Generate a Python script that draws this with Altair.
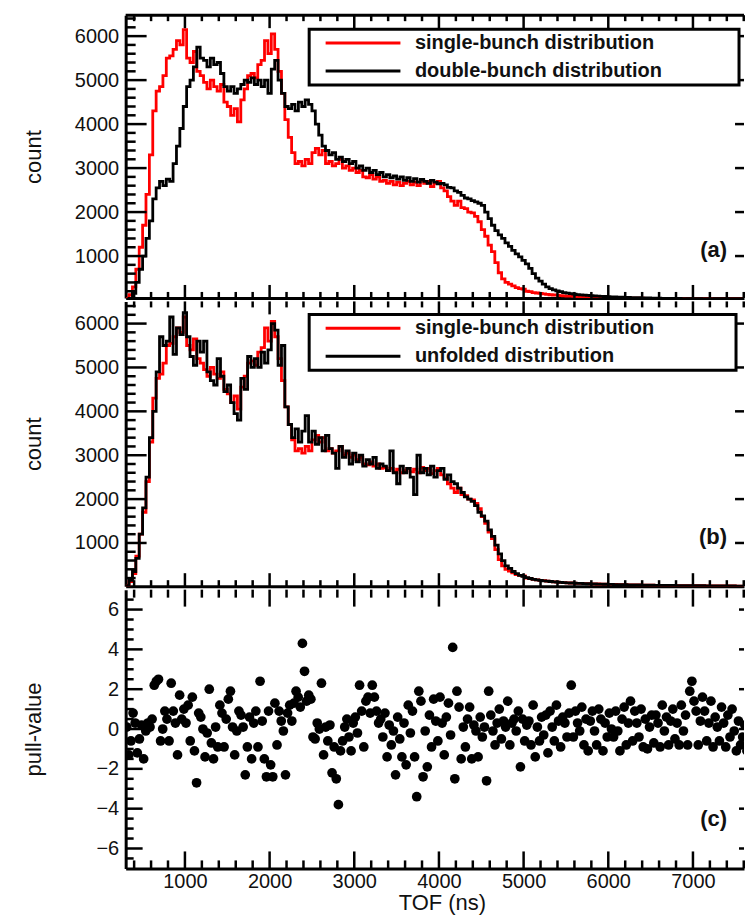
import altair as alt
import pandas as pd

FONT = "Liberation Sans"

# ---------------- data ----------------
TOF_START = 300   # ns, left edge of the first histogram bin
TOF_BIN = 40      # ns, histogram bin width

single_bunch = [
    30, 120, 300, 700, 1200, 1700, 2400, 3300, 4300, 4750,
    4850, 5100, 5500, 5550, 5700, 5900, 5800, 6150, 5500, 5400,
    5650, 5200, 5100, 4950, 4800, 5000, 4850, 4750, 4900, 4500,
    4400, 4200, 4350, 4050, 4550, 4800, 5100, 5150, 5050, 5350,
    5450, 5900, 5600, 6050, 5700, 5200, 4700, 4100, 3700, 3350,
    3100, 3150, 3050, 3200, 3100, 3350, 3450, 3300, 3400, 3100,
    3150, 3050, 3100, 3200, 3000, 3050, 2950, 3000, 2900, 2950,
    2800, 2780, 2850, 2750, 2800, 2700, 2720, 2650, 2700, 2620,
    2680, 2600, 2650, 2700, 2620, 2680, 2600, 2720, 2650, 2700,
    2580, 2650, 2700, 2550, 2480, 2350, 2250, 2150, 2250, 2100,
    2080, 2000, 1980, 1900, 1780, 1600, 1450, 1250, 1100, 850,
    620, 480, 400, 360, 320, 280, 260, 250, 200, 190,
    170, 160, 150, 140, 130, 120, 115, 110, 100, 95,
    90, 88, 85, 80, 78, 75, 72, 70, 68, 65,
    62, 60, 58, 55, 54, 52, 50, 48, 47, 45,
    44, 42, 41, 40, 38, 37, 36, 35, 34, 33,
    32, 31, 30, 30, 29, 28, 27, 27, 26, 25,
    25, 24, 24, 23, 22, 22, 21, 21, 20, 20,
    19, 19, 18, 18,
]

double_bunch = [
    10, 40, 150, 400, 700, 1000, 1400, 1800, 2300, 2550,
    2700, 2600, 2750, 2700, 3100, 3500, 3900, 4400, 4850, 5000,
    5300, 5750, 5500, 5450, 5300, 5500, 5350, 5400, 5150, 4850,
    4750, 4850, 4700, 4800, 4900, 5000, 4950, 5050, 4900, 5000,
    4850, 5000, 4700, 5250, 5450, 5000, 4700, 4400, 4350, 4450,
    4300, 4500, 4400, 4550, 4450, 4300, 4000, 3750, 3500, 3400,
    3300, 3350, 3200, 3250, 3150, 3200, 3100, 3150, 3000, 3050,
    2950, 3000, 2900, 2950, 2850, 2900, 2800, 2850, 2780, 2820,
    2750, 2800, 2720, 2780, 2700, 2760, 2680, 2740, 2700, 2650,
    2720, 2680, 2640, 2650, 2620, 2560, 2550, 2480, 2450, 2380,
    2320, 2300, 2260, 2230, 2200, 2150, 2000, 1850, 1700, 1580,
    1480, 1400, 1300, 1220, 1130, 1050, 980, 900, 820, 720,
    600, 500, 430, 360, 300, 260, 230, 210, 190, 170,
    155, 145, 135, 125, 118, 110, 104, 98, 92, 88,
    84, 80, 76, 72, 69, 66, 63, 60, 58, 56,
    54, 52, 50, 48, 46, 45, 43, 42, 40, 39,
    38, 37, 36, 35, 34, 33, 32, 31, 30, 29,
    28, 28, 27, 26, 26, 25, 24, 24, 23, 23,
    22, 22, 21, 21,
]

unfolded = [
    30, 150, 350, 650, 1200, 1800, 2500, 3400, 4000, 4900,
    5700, 5500, 5600, 6150, 5300, 5900, 5750, 6250, 5700, 5250,
    5050, 5600, 5350, 5600, 4900, 4700, 4600, 5200, 4800, 4450,
    4600, 4200, 3950, 3800, 4750, 4500, 5250, 5000, 5200, 5000,
    5350, 5100, 5400, 6000, 5850, 5050, 5500, 4100, 3700, 3400,
    3600, 3300, 3550, 3900, 3300, 3550, 3250, 3400, 3100, 3450,
    3150, 3050, 2700, 3200, 2950, 3100, 2800, 3050, 2850, 3000,
    2750, 2900, 2800, 2950, 2700, 2800, 2750, 2650, 3100, 2600,
    2350, 2750, 2600, 2700, 2500, 2100, 3000, 2600, 2700, 2550,
    2750, 2500, 2650, 2700, 2450, 2550, 2400, 2350, 2250, 2150,
    2050, 2000, 1950, 1850, 1700, 1620, 1500, 1300, 1150, 950,
    750, 600, 480, 420, 350, 300, 260, 240, 210, 190,
    170, 160, 148, 138, 130, 122, 115, 108, 100, 96,
    92, 88, 84, 80, 77, 74, 71, 69, 66, 64,
    62, 59, 57, 55, 53, 51, 50, 48, 46, 45,
    43, 42, 40, 39, 38, 37, 36, 35, 34, 33,
    32, 31, 30, 29, 29, 28, 27, 27, 26, 25,
    25, 24, 24, 23, 23, 22, 21, 21, 20, 20,
    19, 19, 18, 18,
]

PULL_START = 312.5   # ns, first pull point
PULL_STEP = 25       # ns between pull points
pull_values = [
    0.1, -1.3, -0.6, 0.8, 0.3, -1.2, -0.5, 0.2, -1.5, -0.1,
    0.3, 0.1, 0.5, 2.2, 2.4, 2.5, -0.6, 0.0, 0.9, 0.5,
    -0.6, 2.3, 0.9, 0.3, -1.3, 1.7, 0.5, 1.0, 0.3, 1.2,
    -0.6, 1.6, -1.1, -2.7, 0.8, 0.6, 0.0, -1.4, -0.2, 2.0,
    -0.7, -1.5, 0.1, -0.9, 1.2, 0.8, -0.9, 0.5, 1.5, 1.9,
    0.1, -1.3, -0.1, 0.9, 0.7, 0.1, -2.3, -0.9, 0.6, -1.5,
    0.3, 0.9, -0.9, 2.4, 0.4, -1.5, -2.4, 0.9, -1.8, -2.4,
    1.3, -0.8, 0.9, 0.4, -0.1, -2.3, 0.8, 1.2, 0.4, 1.3,
    1.9, 1.6, 1.1, 4.3, 2.9, 1.4, 1.7, 1.5, -0.4, -0.5,
    0.3, 0.0, 2.3, -1.3, 0.1, -0.6, 0.2, -2.2, -0.9, -2.5,
    -3.8, -1.1, -0.6, 0.1, 0.5, -0.4, -1.1, 0.3, 0.6, -0.2,
    2.2, 0.9, -0.9, 1.4, 1.6, 0.8, 2.2, 1.6, 0.9, 0.3,
    0.5, -0.4, 0.8, -1.4, 0.2, -0.8, -0.1, -2.3, 0.6, -0.5,
    -1.4, 0.3, -1.8, 1.2, -0.2, 0.9, -1.4, -3.4, 1.9, 1.4,
    -2.4, -0.1, -1.9, 0.7, -0.9, 1.5, 0.4, -0.6, 1.6, 0.3,
    -1.3, 0.6, 1.3, -0.3, 4.1, -2.5, 1.9, 1.1, -1.5, 0.1,
    -0.9, 0.5, 1.1, -1.5, 0.2, -0.1, -1.4, 0.6, -0.4, 0.1,
    -2.6, 1.9, 0.7, -0.1, -0.8, 0.3, 1.0, -0.5, 0.4, 0.1,
    1.4, -0.8, 0.3, 0.5, -0.1, 0.9, -1.9, 0.5, -0.6, 0.2,
    0.4, -0.8, 1.2, -1.4, 0.1, -0.6, 0.6, -0.3, 0.7, -1.2,
    0.9, 0.1, -0.6, 1.2, 0.4, -0.9, 0.6, 0.3, -0.4, 0.8,
    2.2, -0.4, 0.9, 0.3, -0.1, 1.1, -0.8, 0.5, -1.1, 0.4,
    0.9, -0.1, -0.8, 1.0, 0.5, -1.1, 0.3, -0.4, 0.8, 0.0,
    -0.4, 0.9, -0.1, -1.1, 0.5, 1.1, -0.8, 0.3, 1.4, -0.6,
    0.9, 0.3, -0.4, 1.0, -0.9, 0.5, -1.0, 0.1, 0.7, -0.7,
    0.7, 0.3, -0.9, 1.2, -0.1, 0.6, -0.8, 0.4, 1.0, -0.5,
    0.3, -0.8, 1.2, -0.1, 0.7, -0.8, 1.9, 2.4, 1.4, 0.9,
    -0.8, 0.4, 1.6, 0.9, -0.6, 0.3, 1.4, -0.9, 0.6, 0.1,
    -0.6, 1.1, 0.3, -0.9, 0.7, -0.4, 1.0, -0.1, -1.1, 0.4,
    -0.8, -0.4, 0.2, -1.1,
]

series_a = ["single-bunch distribution", "double-bunch distribution"]
series_b = ["single-bunch distribution", "unfolded distribution"]
series_colors = ["#ff0000", "#000000"]
panel_labels = ["(a)", "(b)", "(c)"]

tof_major = [1000, 2000, 3000, 4000, 5000, 6000, 7000]
tof_minor = [v for v in range(400, 7601, 200) if v % 1000 != 0]
count_major = [1000, 2000, 3000, 4000, 5000, 6000]
count_minor = [v for v in range(200, 6401, 200) if v % 1000 != 0]
pull_major = [-6, -4, -2, 0, 2, 4, 6]
pull_minor = [v / 2 for v in range(-13, 14) if v % 4 != 0]

assert len(single_bunch) == len(double_bunch) == len(unfolded)

# ---------------- tables ----------------
n = len(single_bunch)
tof = [TOF_START + TOF_BIN * i for i in range(n)]
df_a = pd.DataFrame({"tof": tof * 2, "count": single_bunch + double_bunch,
                     "series": [series_a[0]] * n + [series_a[1]] * n})
df_b = pd.DataFrame({"tof": tof * 2, "count": single_bunch + unfolded,
                     "series": [series_b[0]] * n + [series_b[1]] * n})
df_pull = pd.DataFrame({"tof": [PULL_START + PULL_STEP * i for i in range(len(pull_values))],
                        "pull": pull_values})

# ---------------- layout ----------------
W = 620
X_DOMAIN = [300, 7603]


def xscale():
    return alt.Scale(domain=X_DOMAIN, nice=False, zero=False)


def tick_df(values):
    return pd.DataFrame({"v": values})


# tick layers leave their axis unspecified so that it merges with the data layer's axis
def x_ticks(values, y0, y1):
    return alt.Chart(tick_df(values)).mark_rule(color="black", strokeWidth=2.5).encode(
        x=alt.X("v:Q", scale=xscale()), y=alt.value(y0), y2=alt.value(y1))


def y_ticks(values, yscale, x0, x1):
    return alt.Chart(tick_df(values)).mark_rule(color="black", strokeWidth=2.5).encode(
        y=alt.Y("v:Q", scale=yscale), x=alt.value(x0), x2=alt.value(x1))


def label_layer(text, y):
    return alt.Chart(pd.DataFrame({"t": [text]})).mark_text(
        align="right", baseline="middle", fontSize=22, fontWeight="bold", font=FONT, color="#111"
    ).encode(text="t:N", x=alt.value(W - 17), y=alt.value(y))


def top_frame():
    return alt.Chart(pd.DataFrame({"t": [0]})).mark_rule(color="black", strokeWidth=3).encode(
        x=alt.value(0), x2=alt.value(W), y=alt.value(0))


def y_axis(title, values):
    return alt.Axis(values=values, title=title, format="d", ticks=False, tickSize=0,
                    domain=True, domainWidth=3, domainColor="black", labelPadding=7,
                    labelFontSize=20, titleFontSize=22, titleX=-80, grid=False)


hidden_x_axis = alt.Axis(labels=False, ticks=False, tickSize=0, domain=True, domainWidth=3,
                         domainColor="black", title=None, grid=False)


def hist_panel(df, series, ydom, H, legend_y, label, label_y, filler, top_border):
    yscale = alt.Scale(domain=ydom, nice=False, zero=False)
    legend = alt.Legend(
        title=filler, titleOrient="right", titleFontSize=10, titleOpacity=0,
        titlePadding=0, orient="none", legendX=184, legendY=legend_y,
        symbolType="stroke", symbolSize=5625, symbolStrokeWidth=3, symbolOffset=11,
        clipHeight=20, rowPadding=8, padding=4, labelOffset=13,
        labelFontSize=20, labelFontWeight="bold", labelFont=FONT, labelColor="#111",
        labelLimit=600, strokeColor="black", fillColor="white",
    )
    color = alt.Color("series:N", scale=alt.Scale(domain=series, range=series_colors),
                      legend=legend)
    layers = []
    for s in series:
        layers.append(
            alt.Chart(df).transform_filter(alt.datum.series == s)
            .mark_line(interpolate="step-after", strokeWidth=2.8, clip=True)
            .encode(x=alt.X("tof:Q", scale=xscale(), axis=hidden_x_axis),
                    y=alt.Y("count:Q", scale=yscale, axis=y_axis("count", count_major)),
                    color=color)
        )
    layers += [
        x_ticks(tof_major, 0, 13),
        x_ticks(tof_minor, 0, 6),
        x_ticks(tof_major, H, H - 13),
        x_ticks(tof_minor, H, H - 6),
        y_ticks(count_major, yscale, 0, 21),
        y_ticks(count_minor, yscale, 0, 10),
        y_ticks(count_major, yscale, W - 9, W),
        label_layer(label, label_y),
    ]
    if top_border:
        layers.append(top_frame())
    return alt.layer(*layers).properties(width=W, height=H)


H_A, H_B, H_C = 283.5, 285.5, 279.5
panel_a = hist_panel(df_a, series_a, [48, 6476], H_A, 14, panel_labels[0], 235,
                     "0" * 13, True)
panel_b = hist_panel(df_b, series_b, [16, 6505], H_B, 13, panel_labels[1], 236.5,
                     "0" * 14, False)

pscale = alt.Scale(domain=[-7, 7], nice=False, zero=False)
bottom_x_axis = alt.Axis(values=tof_major, title="TOF (ns)", format="d", ticks=False,
                         tickSize=0, domain=True, domainWidth=3, domainColor="black",
                         labelPadding=3, labelFontSize=20, titleFontSize=22, labelFlush=False,
                         titleX=317, titleY=24, grid=False)
points = alt.Chart(df_pull).mark_circle(size=95, color="black", opacity=1, clip=True).encode(
    x=alt.X("tof:Q", scale=xscale(), axis=bottom_x_axis),
    y=alt.Y("pull:Q", scale=pscale, axis=y_axis("pull-value", pull_major)),
)
panel_c = alt.layer(
    points,
    x_ticks(tof_major, 0, 17),
    x_ticks(tof_minor, 0, 8),
    x_ticks(tof_major, H_C, H_C - 17),
    x_ticks(tof_minor, H_C, H_C - 8),
    y_ticks(pull_major, pscale, 0, 17),
    y_ticks(pull_minor, pscale, 0, 8),
    y_ticks(pull_major, pscale, W - 5, W),
    label_layer(panel_labels[2], 229.5),
).properties(width=W, height=H_C)

chart = (
    alt.vconcat(panel_a, panel_b, panel_c, spacing=0)
    .resolve_scale(color="independent")
    .properties(padding={"left": 22, "top": 12, "right": 0, "bottom": 0}, background="white")
    .configure_view(stroke=None)
    .configure_axis(labelFont=FONT, titleFont=FONT, labelColor="#111", titleColor="#111",
                    titleFontWeight="normal")
    .configure_legend(strokeWidth=3)
)

chart.save("out.html", embed_options={"renderer": "svg", "actions": False})
